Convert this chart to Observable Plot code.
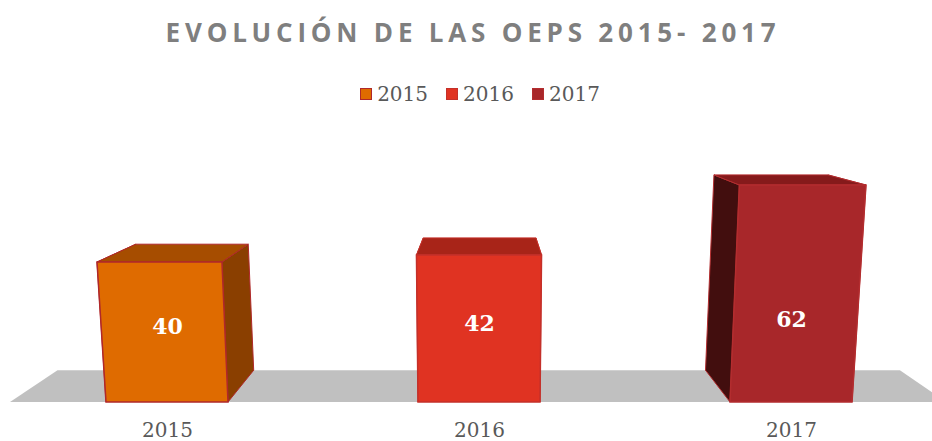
<!DOCTYPE html>
<html><head><meta charset="utf-8">
<script src="https://cdn.jsdelivr.net/npm/d3@7"></script>
<script src="https://cdn.jsdelivr.net/npm/@observablehq/plot@0.6"></script>
<style>
body{margin:0;background:#fff;width:932px;height:441px;overflow:hidden;}
#header{position:relative;height:110px;}
#title{position:absolute;left:0;width:932px;top:19px;padding-left:14px;box-sizing:border-box;text-align:center;font:700 26px "Open Sans";letter-spacing:4.8px;color:#7f7f7f;line-height:1;white-space:nowrap;}
#legend{position:absolute;left:0;width:932px;top:84px;padding-left:28px;box-sizing:border-box;display:flex;justify-content:center;font:20px "DejaVu Serif";color:#595959;line-height:1;}
.item{display:flex;align-items:center;margin:0 9px;}
.sw{width:10px;height:10px;border:1.5px solid;margin-right:5px;box-sizing:content-box;}
svg{display:block;}
</style></head><body>
<div id="header"><div id="title"></div><div id="legend"></div></div>
<div id="chart"></div>
<script>
const titleText = "EVOLUCIÓN DE LAS OEPS 2015- 2017";
const years = ["2015", "2016", "2017"];
const values = [40, 42, 62];
const frontColors = ["#df6b00", "#e03322", "#a8272a"];
const topColors = ["#a64d00", "#a82418", "#851a1b"];
const sideColors = ["#8a3f00", "#9a2015", "#420e0e"];
const edgeColors = ["#b0282a", "#c4302a", "#b32d2f"];

const data = years.map((year, i) => ({year, value: values[i], i}));

document.getElementById("title").textContent = titleText;
const legend = document.getElementById("legend");
years.forEach((y, i) => {
  const it = document.createElement("div"); it.className = "item";
  const sw = document.createElement("div"); sw.className = "sw";
  sw.style.background = frontColors[i]; sw.style.borderColor = edgeColors[i];
  const t = document.createElement("span"); t.textContent = y;
  it.append(sw, t); legend.append(it);
});

function boxes(index, scales) {
  const x = scales.x, y = scales.y;
  const bw = typeof x.bandwidth === "function" ? x.bandwidth() : 0;
  const [r0, r1] = x.range();
  const y0 = y(0);
  const cx = (r0 + r1) / 2;
  const keyY = y0 + 5800;
  const vp = [cx + 6, y0 - 318];
  const k = 0.1;
  const warp = ([px, py]) => [cx + (px - cx) * (keyY - py) / (keyY - y0), py];
  const back = ([px, py]) => [px + k * (vp[0] - px), py + k * (vp[1] - py)];
  const poly = pts => "M" + pts.map(p => p.join(",")).join("L") + "Z";
  const g = d3.create("svg:g");
  const fl = [[r0 - 2, y0], [r1, y0]];
  g.append("path").attr("d", poly([fl[0], fl[1], back(fl[1]), back(fl[0])])).attr("fill", "#c0c0c0");
  for (const d of data) {
    const xl = x(d.year), xr = xl + bw, yt = y(d.value);
    const FL = warp([xl, y0]), FR = warp([xr, y0]), TL = warp([xl, yt]), TR = warp([xr, yt]);
    const BFL = back(FL), BFR = back(FR), BTL = back(TL), BTR = back(TR);
    const edge = edgeColors[d.i];
    g.append("path").attr("d", poly([FL, TL, BTL, BFL])).attr("fill", sideColors[d.i]).attr("stroke", edge).attr("stroke-width", 1);
    g.append("path").attr("d", poly([FR, TR, BTR, BFR])).attr("fill", sideColors[d.i]).attr("stroke", edge).attr("stroke-width", 1);
    g.append("path").attr("d", poly([TL, TR, BTR, BTL])).attr("fill", topColors[d.i]).attr("stroke", edge).attr("stroke-width", 1);
    g.append("path").attr("d", poly([FL, FR, TR, TL])).attr("fill", frontColors[d.i]).attr("stroke", edge).attr("stroke-width", 1.5);
  }
  return g.node();
}

const chart = Plot.plot({
  width: 932,
  height: 331,
  marginTop: 0, marginBottom: 39, marginLeft: 0, marginRight: 0,
  style: {fontFamily: "DejaVu Serif", fontSize: "20px", color: "#595959", background: "white"},
  x: {type: "band", domain: years, range: [12, 946], paddingInner: 0.61, paddingOuter: 0.3, tickSize: 0, tickPadding: 20, label: null},
  y: {domain: [0, 80], range: [292, 12], axis: null},
  marks: [
    boxes,
    Plot.text(data, {
      x: "year",
      y: d => Math.min(d.value / 2 + 1.5, 23.5),
      text: d => String(d.value),
      fill: "white", fontWeight: "bold", fontSize: 22, fontFamily: "DejaVu Serif"
    })
  ]
});
document.getElementById("chart").append(chart);
</script>
</body></html>
